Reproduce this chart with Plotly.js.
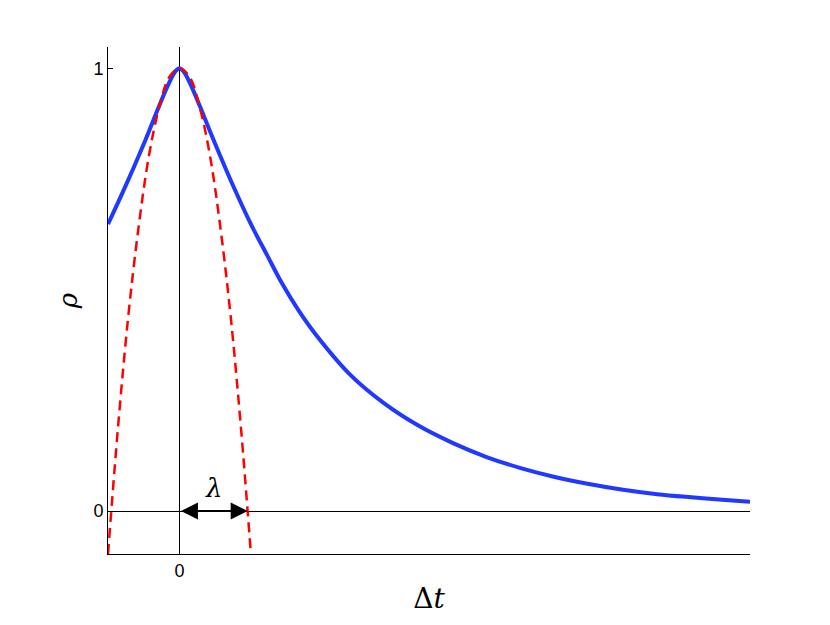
<!DOCTYPE html>
<html>
<head>
<meta charset="utf-8">
<script src="https://cdn.plot.ly/plotly-3.0.1.min.js"></script>
<style>
  html, body { margin: 0; padding: 0; background: #fff; }
  #chart { width: 830px; height: 625px; }
</style>
</head>
<body>
<div id="chart"></div>
<script>
// correlation curve rho(dt)
const rhoX = [-1.047, -0.864, -0.67, -0.52, -0.425, -0.3, -0.205, -0.1, -0.05, 0, 0.05, 0.1, 0.205, 0.3, 0.4, 0.5,
  0.65, 0.8, 1.04, 1.284, 1.5, 1.75, 2.0, 2.5, 3.0, 3.5, 4.0, 4.5, 5.0, 5.5, 6.0, 6.5, 7.0, 7.5, 8.0, 8.36];
const rhoY = [0.648, 0.709, 0.776, 0.83, 0.866, 0.914, 0.949, 0.983, 0.995, 1.0, 0.995, 0.983, 0.949, 0.914, 0.876, 0.838,
  0.783, 0.73, 0.65, 0.578, 0.515, 0.452, 0.398, 0.308, 0.243, 0.193, 0.154, 0.122, 0.097, 0.077, 0.061,
  0.048, 0.038, 0.031, 0.025, 0.021];

// osculating parabola (dashed red)
const parX = [-1.047, -0.9, -0.75, -0.6, -0.45, -0.3, -0.15, 0, 0.15, 0.3, 0.45, 0.6, 0.75, 0.9, 1.047];
const parY = [-0.097, 0.19, 0.44, 0.64, 0.80, 0.91, 0.98, 1.0, 0.98, 0.91, 0.80, 0.64, 0.44, 0.19, -0.097];

// lambda marker
const lambda = 1.0;

const yTicks = [0, 1];
const yTickText = ['0', '1'];
const xTicks = [0];
const xTickText = ['0'];

const traces = [
  {
    x: rhoX, y: rhoY,
    type: 'scatter', mode: 'lines',
    line: { color: '#2038ff', width: 4, shape: 'spline', smoothing: 1 },
    hoverinfo: 'skip'
  },
  {
    x: parX, y: parY,
    type: 'scatter', mode: 'lines',
    line: { color: '#ff0000', width: 2.5, dash: '10px,6px', shape: 'spline', smoothing: 1 },
    hoverinfo: 'skip'
  }
];

const layout = {
  width: 830,
  height: 625,
  showlegend: false,
  paper_bgcolor: '#fff',
  plot_bgcolor: '#fff',
  margin: { l: 108, r: 80, t: 47, b: 71 },
  font: { family: 'Liberation Sans, Arial, sans-serif', size: 18, color: '#000' },
  xaxis: {
    range: [-1.047, 8.36],
    tickvals: xTicks, ticktext: xTickText,
    ticks: 'inside', ticklen: 5, tickcolor: '#000',
    tickfont: { family: 'Liberation Sans, Arial, sans-serif', size: 18 },
    showgrid: false,
    showline: true, linecolor: '#000', linewidth: 1,
    zeroline: true, zerolinecolor: '#000', zerolinewidth: 1,
    title: { text: 'Δ<i>t</i>', font: { family: 'DejaVu Serif, serif', size: 28 }, standoff: 8 }
  },
  yaxis: {
    range: [-0.097, 1.048],
    tickvals: yTicks, ticktext: yTickText,
    ticks: 'inside', ticklen: 5, tickcolor: '#000',
    tickfont: { family: 'Liberation Sans, Arial, sans-serif', size: 18 },
    showgrid: false,
    showline: true, linecolor: '#000', linewidth: 1,
    zeroline: true, zerolinecolor: '#000', zerolinewidth: 1,
    title: { text: '<i>ρ</i>', font: { family: 'DejaVu Serif, serif', size: 26 }, standoff: 8 }
  },
  annotations: [
    {
      x: lambda, y: 0, xref: 'x', yref: 'y',
      ax: 0, ay: 0, axref: 'x', ayref: 'y',
      showarrow: true, arrowside: 'end+start',
      arrowhead: 2, arrowsize: 1.7, arrowwidth: 2, arrowcolor: '#000',
      text: ''
    },
    {
      x: lambda / 2, y: 0, xref: 'x', yref: 'y',
      yshift: 23, showarrow: false,
      text: '<i>λ</i>',
      font: { family: 'DejaVu Serif, serif', size: 26, color: '#000' }
    }
  ]
};

Plotly.newPlot('chart', traces, layout, { displayModeBar: false, staticPlot: true });
</script>
</body>
</html>
